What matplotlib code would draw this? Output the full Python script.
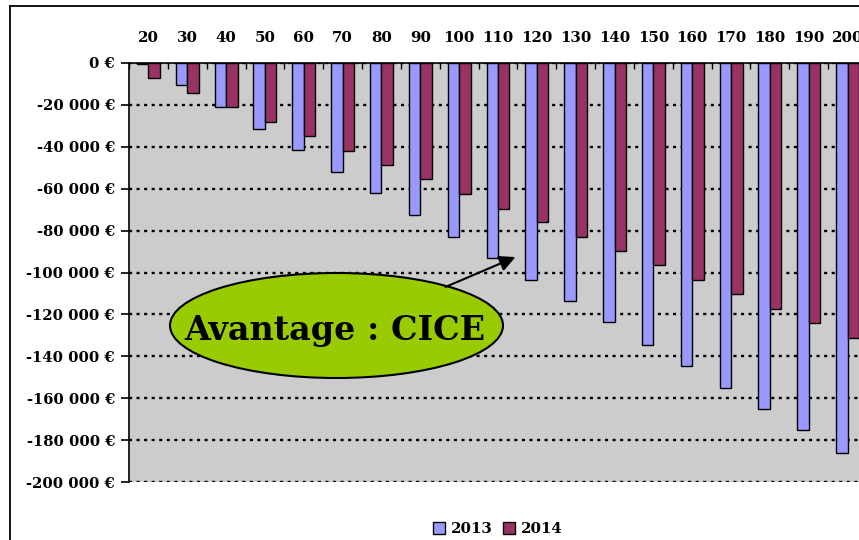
import matplotlib
matplotlib.use("Agg")
import matplotlib.pyplot as plt
from matplotlib.patches import Ellipse, FancyArrowPatch
from matplotlib.lines import Line2D
import numpy as np

categories = [20, 30, 40, 50, 60, 70, 80, 90, 100, 110, 120, 130, 140, 150, 160, 170, 180, 190, 200]
values_2013 = [-600, -10300, -21200, -31300, -41300, -51900, -62200, -72700, -82900, -93000,
               -103600, -113600, -123800, -134400, -144500, -155000, -165200, -175300, -186000]
values_2014 = [-7200, -14100, -21200, -28200, -34800, -42000, -48800, -55600, -62700, -69600,
               -75900, -82900, -89700, -96600, -103500, -110300, -117300, -124000, -131200]
series_names = ["2013", "2014"]
y_ticks = list(range(0, -200001, -20000))
annotation_text = "Avantage : CICE"

FONT = "DejaVu Serif"
W, H = 859, 540
fig = plt.figure(figsize=(W / 100, H / 100), dpi=100)
fig.patch.set_facecolor("white")

ax = fig.add_axes([129 / W, 1 - 482 / H, (867 - 129) / W, (482 - 63) / H])
ax.set_facecolor("#CCCCCC")

x = np.arange(len(categories))
bw = 0.296
b1 = ax.bar(x - bw / 2, values_2013, bw, color="#9999FF", edgecolor="black", linewidth=1.0,
            label=series_names[0], zorder=3)
b2 = ax.bar(x + bw / 2, values_2014, bw, color="#993366", edgecolor="black", linewidth=1.0,
            label=series_names[1], zorder=3)

ax.set_xlim(-0.5, len(categories) - 0.5)
ax.set_ylim(-200000, 0)

# gridlines
for v in y_ticks:
    ax.axhline(v, color="black", linestyle=(0, (1.3, 1.9)), linewidth=1.7, zorder=1)

# spines
for s in ["right", "bottom"]:
    ax.spines[s].set_visible(False)
ax.spines["left"].set_linewidth(1.2)
ax.spines["top"].set_linewidth(1.2)
ax.spines["top"].set_zorder(4)

# y axis
ax.set_yticks(y_ticks)
ax.set_yticklabels([(f"{v:,}".replace(",", " ") + " €") for v in y_ticks],
                   fontfamily=FONT, fontweight="bold", fontsize=10.6)
ax.tick_params(axis="y", direction="out", length=6, width=1.2, pad=4)

# x axis on top
ax.xaxis.tick_top()
ax.set_xticks(np.arange(len(categories) + 1) - 0.5)
ax.set_xticklabels([])
ax.tick_params(axis="x", which="major", direction="in", length=4, width=1.0, top=True, bottom=False)
ax.set_xticks(x, minor=True)
ax.set_xticklabels([str(c) for c in categories], minor=True,
                   fontfamily=FONT, fontweight="bold", fontsize=10.8)
ax.tick_params(axis="x", which="minor", length=0, pad=13, top=True, bottom=False,
               labeltop=True, labelbottom=False)

# outer chart border (cropped on right and bottom)
x0 = 10 / W
ytop = 1 - 6 / H
fig.add_artist(Line2D([x0, x0], [-0.1, ytop], transform=fig.transFigure, color="black", linewidth=1.3))
fig.add_artist(Line2D([x0, 1.1], [ytop, ytop], transform=fig.transFigure, color="black", linewidth=1.3))

# annotation ellipse + arrow
ell = Ellipse((336.5 / W, 1 - 325.5 / H), 333 / W, 105 / H, transform=fig.transFigure,
              facecolor="#99CC00", edgecolor="black", linewidth=1.5, zorder=10)
fig.add_artist(ell)
fig.text(335 / W, 1 - 340 / H, annotation_text, ha="center", va="baseline",
         fontfamily=FONT, fontweight="bold", fontsize=24, zorder=11)
arr = FancyArrowPatch((443 / W, 1 - 288 / H), (518 / W, 1 - 256 / H), transform=fig.transFigure,
                      arrowstyle="-|>", mutation_scale=24, color="black", linewidth=1.5, zorder=11)
fig.add_artist(arr)

# legend
leg = fig.legend(handles=[b1, b2], labels=series_names, loc="center", ncol=2,
                 bbox_to_anchor=(498 / W, 1 - 529 / H), frameon=False,
                 prop={"family": FONT, "weight": "bold", "size": 10.8},
                 handlelength=0.8, handleheight=0.8, handletextpad=0.4, columnspacing=0.7)

fig.savefig("out.png", dpi=100)
